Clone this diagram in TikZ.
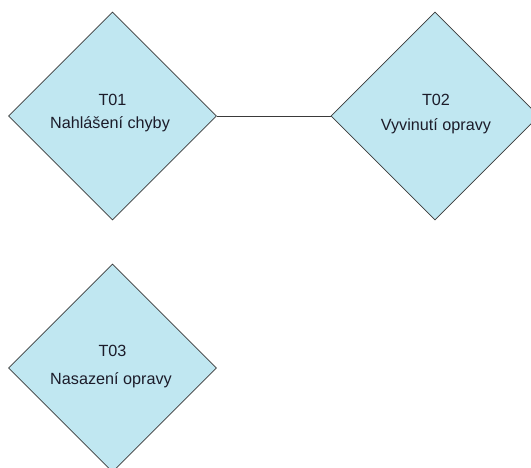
\documentclass[tikz,border=0pt]{standalone}
\usepackage{fontspec}
\setmainfont{Liberation Sans}
\usetikzlibrary{shapes.geometric}
\definecolor{taskfill}{HTML}{C0E7F1}
\definecolor{taskline}{HTML}{3A3A3A}
\definecolor{captionink}{HTML}{1C1C2A}
\tikzset{
  task/.style={diamond, aspect=1, draw=taskline, line width=0.8pt, fill=taskfill,
    minimum width=208pt, minimum height=208pt, inner sep=0pt},
  tasktext/.style={font=\fontsize{16.2}{19}\selectfont, text=captionink, inner sep=0pt, anchor=base},
  link/.style={draw=taskline, line width=0.9pt}
}
\begin{document}
\begin{tikzpicture}[x=1pt,y=-1pt]
  \useasboundingbox (0,0) rectangle (531,468);
  \clip (0,0) rectangle (531,468);
  \fill[white] (0,0) rectangle (531,468);

  % task diamonds
  \node[task] (t01) at (112.5,116) {};
  \node[task] (t02) at (435,116) {};
  \node[task] (t03) at (112.5,368) {};

  % connector between the first two tasks
  \draw[link] (t01.east) -- (t02.west);

  % task captions (placed on their baselines)
  \node[tasktext] (t01id) at (112.5,105.7) {T01};
  \node[tasktext] (t01name) at (110,128.3) {Nahlášení chyby};
  \node[tasktext] (t02id) at (436,105.7) {T02};
  \node[tasktext] (t02name) at (436,131) {Vyvinutí opravy};
  \node[tasktext] (t03id) at (112.5,356) {T03};
  \node[tasktext] (t03name) at (111,384.3) {Nasazení opravy};
\end{tikzpicture}
\end{document}
